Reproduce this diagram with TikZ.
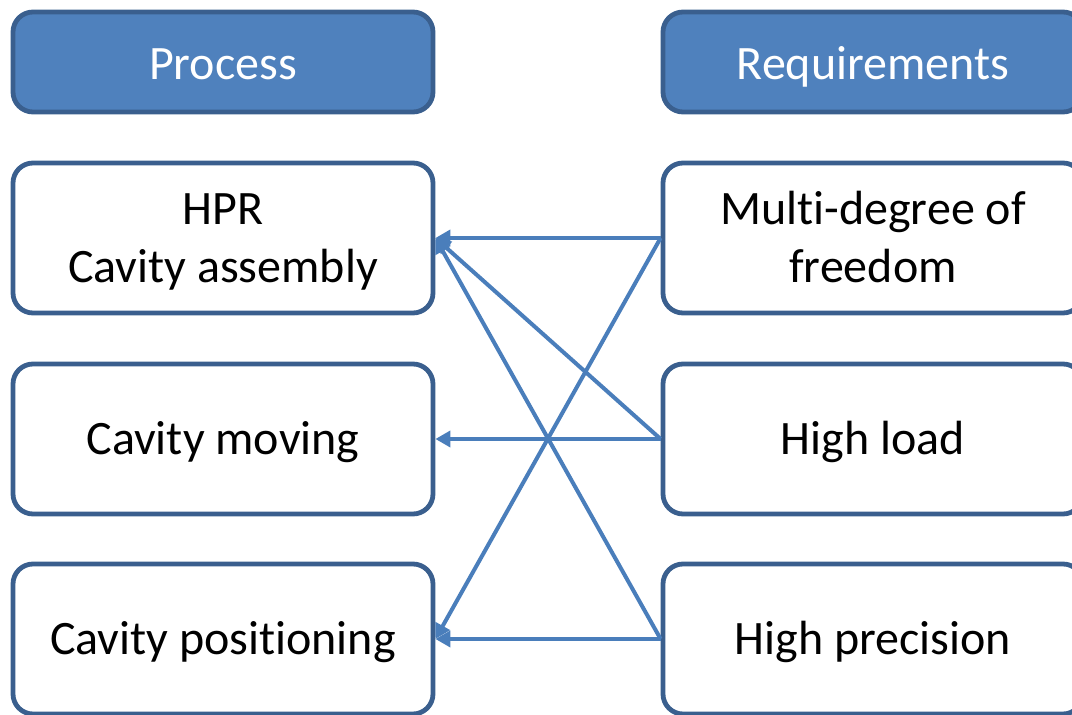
\documentclass[tikz,border=0pt]{standalone}
\usepackage{fontspec}
\setmainfont{Carlito}[Ligatures={NoCommon}]
\usepackage{tikz}
\usetikzlibrary{arrows.meta, positioning}
\definecolor{headfill}{HTML}{4F81BD}
\definecolor{boxline}{HTML}{3A5F8E}
\definecolor{linkblue}{HTML}{4A7EBB}
% two centred lines
\newcommand{\twolines}[2]{\begin{tabular}{@{}c@{}}#1\\#2\end{tabular}}

\begin{document}
\begin{tikzpicture}[x=0.5pt, y=-0.5pt,
		head/.style={rectangle, rounded corners=10pt, draw=boxline, line width=2.4pt, fill=headfill,
			text=white, minimum width=210pt, minimum height=50pt, text height=21.6pt, text depth=3.6pt,
			font=\fontsize{24}{29}\selectfont},
		item/.style={rectangle, rounded corners=10pt, draw=boxline, line width=2.4pt, fill=white,
			minimum width=210pt, minimum height=75pt, text height=24pt, text depth=8pt,
			font=\fontsize{24}{29}\selectfont},
		link/.style={draw=linkblue, line width=2pt, -{Triangle[length=7.5pt,width=8pt]}}
		]
	\useasboundingbox (0,0) rectangle (1072,715);

	\node[head] (P0) at (223, 62) {Process};
	\node[head] (R0) at (873, 62) {Requirements};

	\node[item] (P1) at (223, 238) {\twolines{HPR}{Cavity assembly}};
	\node[item] (P2) at (223, 439) {Cavity moving};
	\node[item] (P3) at (223, 639) {Cavity positioning};

	\node[item] (R1) at (873, 238) {\twolines{Multi-degree of}{freedom}};
	\node[item] (R2) at (873, 439) {High load};
	\node[item] (R3) at (873, 639) {High precision};

	\draw[link] (R1.west) -- (P1.east);
	\draw[link] (R1.west) -- (P3.east);
	\draw[link] (R2.west) -- (P2.east);
	\draw[link] (R2.west) -- (P1.east);
	\draw[link] (R3.west) -- (P3.east);
	\draw[link] (R3.west) -- (P1.east);

\end{tikzpicture}
\end{document}
